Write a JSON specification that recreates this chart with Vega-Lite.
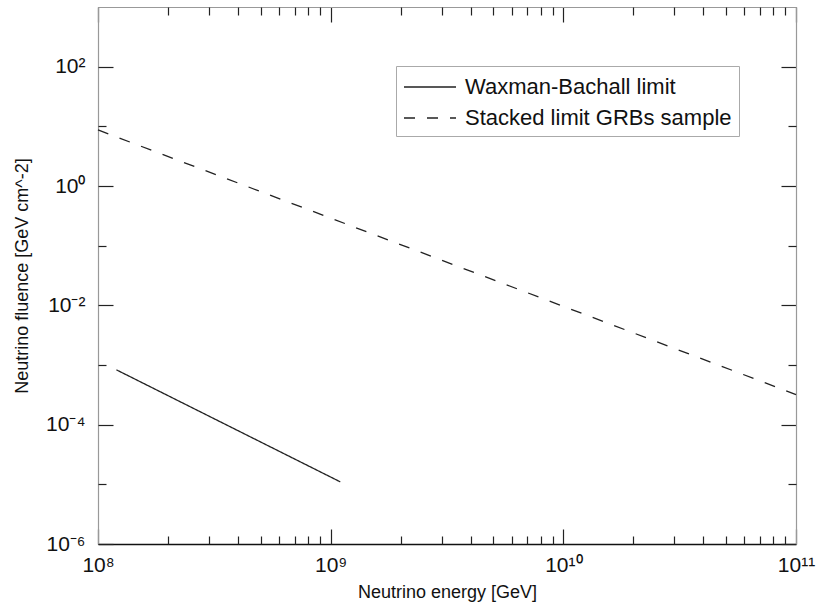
{
  "$schema": "https://vega.github.io/schema/vega-lite/v6.json",
  "width": 698,
  "height": 537,
  "autosize": {"type": "none"},
  "padding": {"left": 98, "top": 7, "right": 21, "bottom": 67},
  "background": "white",
  "config": {
    "view": {"stroke": null},
    "font": "Liberation Sans",
    "axis": {"grid": false, "labelFont": "Liberation Sans", "titleFont": "Liberation Sans", "labelColor": "#111", "titleColor": "#111", "titleFontWeight": "normal", "tickColor": "#222", "tickWidth": 1.2}
  },
  "data": {
    "values": [
      {"energy": 1.2e8, "fluence": 8.3e-4, "series": "Waxman-Bachall limit"},
      {"energy": 1.1e9, "fluence": 1.1e-5, "series": "Waxman-Bachall limit"},
      {"energy": 1e8, "fluence": 8.7, "series": "Stacked limit GRBs sample"},
      {"energy": 1e11, "fluence": 3.2e-4, "series": "Stacked limit GRBs sample"}
    ]
  },
  "resolve": {"axis": {"x": "independent", "y": "independent"}},
  "layer": [
    {
      "mark": {"type": "line", "color": "#222", "strokeWidth": 1.3},
      "encoding": {
        "x": {"field": "energy", "type": "quantitative", "scale": {"type": "log", "domain": [1e8, 1e11], "nice": false},
          "axis": {"orient": "bottom", "values": [1e8, 1e9, 1e10, 1e11], "ticks": false, "domainColor": "#111", "domainWidth": 1.5,
            "labelExpr": "datum.value < 5e8 ? '10⁸' : datum.value < 5e9 ? '10⁹' : datum.value < 5e10 ? '10¹⁰' : '10¹¹'",
            "labelFontSize": 21, "labelPadding": 10, "labelFlush": false, "labelOverlap": false,
            "title": "Neutrino energy [GeV]", "titleFontSize": 18, "titlePadding": 8}},
        "y": {"field": "fluence", "type": "quantitative", "scale": {"type": "log", "domain": [1e-6, 1e3], "nice": false},
          "axis": {"orient": "left", "values": [1e-6, 1e-4, 1e-2, 1, 100], "ticks": false, "domainColor": "#999", "domainWidth": 1.2,
            "labelExpr": "datum.value < 1e-5 ? '10⁻⁶' : datum.value < 1e-3 ? '10⁻⁴' : datum.value < 0.1 ? '10⁻²' : datum.value < 10 ? '10⁰' : '10²'",
            "labelFontSize": 21, "labelPadding": 13, "labelFlush": false, "labelOverlap": false,
            "title": "Neutrino fluence [GeV cm^-2]", "titleFontSize": 18, "titlePadding": 14}},
        "strokeDash": {"field": "series", "type": "nominal",
          "scale": {"domain": ["Waxman-Bachall limit", "Stacked limit GRBs sample"], "range": [[1, 0], [11, 12]]},
          "legend": {"orient": "none", "legendX": 298, "legendY": 59, "title": null, "labelFontSize": 22, "labelFont": "Liberation Sans", "labelColor": "#111",
            "symbolType": "M-1,0H3", "symbolSize": 676, "symbolStrokeColor": "#222", "symbolStrokeWidth": 1.3, "symbolFillColor": "transparent",
            "fillColor": "white", "strokeColor": "#aaa", "padding": 7, "rowPadding": 6, "labelOffset": 34, "labelLimit": 400}}
      }
    },
    {
      "mark": {"type": "point", "opacity": 0},
      "encoding": {
        "x": {"field": "energy", "type": "quantitative", "axis": {"orient": "bottom", "values": [1e8, 1e9, 1e10, 1e11], "tickSize": -15, "labels": false, "domain": false, "title": null}},
        "y": {"field": "fluence", "type": "quantitative", "axis": {"orient": "left", "values": [1e-6, 1e-4, 1e-2, 1, 100], "tickSize": -15, "labels": false, "domain": false, "title": null}}
      }
    },
    {
      "mark": {"type": "point", "opacity": 0},
      "encoding": {
        "x": {"field": "energy", "type": "quantitative", "axis": {"orient": "bottom", "values": [2e8, 3e8, 4e8, 5e8, 6e8, 7e8, 8e8, 9e8, 2e9, 3e9, 4e9, 5e9, 6e9, 7e9, 8e9, 9e9, 2e10, 3e10, 4e10, 5e10, 6e10, 7e10, 8e10, 9e10], "tickSize": -8, "labels": false, "domain": false, "title": null}},
        "y": {"field": "fluence", "type": "quantitative", "axis": {"orient": "left", "values": [1e-5, 1e-3, 0.1, 10], "tickSize": -8, "labels": false, "domain": false, "title": null}}
      }
    },
    {
      "mark": {"type": "point", "opacity": 0},
      "encoding": {
        "x": {"field": "energy", "type": "quantitative", "axis": {"orient": "top", "values": [1e8, 1e9, 1e10, 1e11], "tickSize": -15, "labels": false, "domainColor": "#999", "domainWidth": 1.2, "title": null}},
        "y": {"field": "fluence", "type": "quantitative", "axis": {"orient": "right", "values": [1e-6, 1e-4, 1e-2, 1, 100], "tickSize": -15, "labels": false, "domainColor": "#999", "domainWidth": 1.2, "title": null}}
      }
    },
    {
      "mark": {"type": "point", "opacity": 0},
      "encoding": {
        "x": {"field": "energy", "type": "quantitative", "axis": {"orient": "top", "values": [2e8, 3e8, 4e8, 5e8, 6e8, 7e8, 8e8, 9e8, 2e9, 3e9, 4e9, 5e9, 6e9, 7e9, 8e9, 9e9, 2e10, 3e10, 4e10, 5e10, 6e10, 7e10, 8e10, 9e10], "tickSize": -8, "labels": false, "domain": false, "title": null}},
        "y": {"field": "fluence", "type": "quantitative", "axis": {"orient": "right", "values": [1e-5, 1e-3, 0.1, 10], "tickSize": -8, "labels": false, "domain": false, "title": null}}
      }
    }
  ]
}
